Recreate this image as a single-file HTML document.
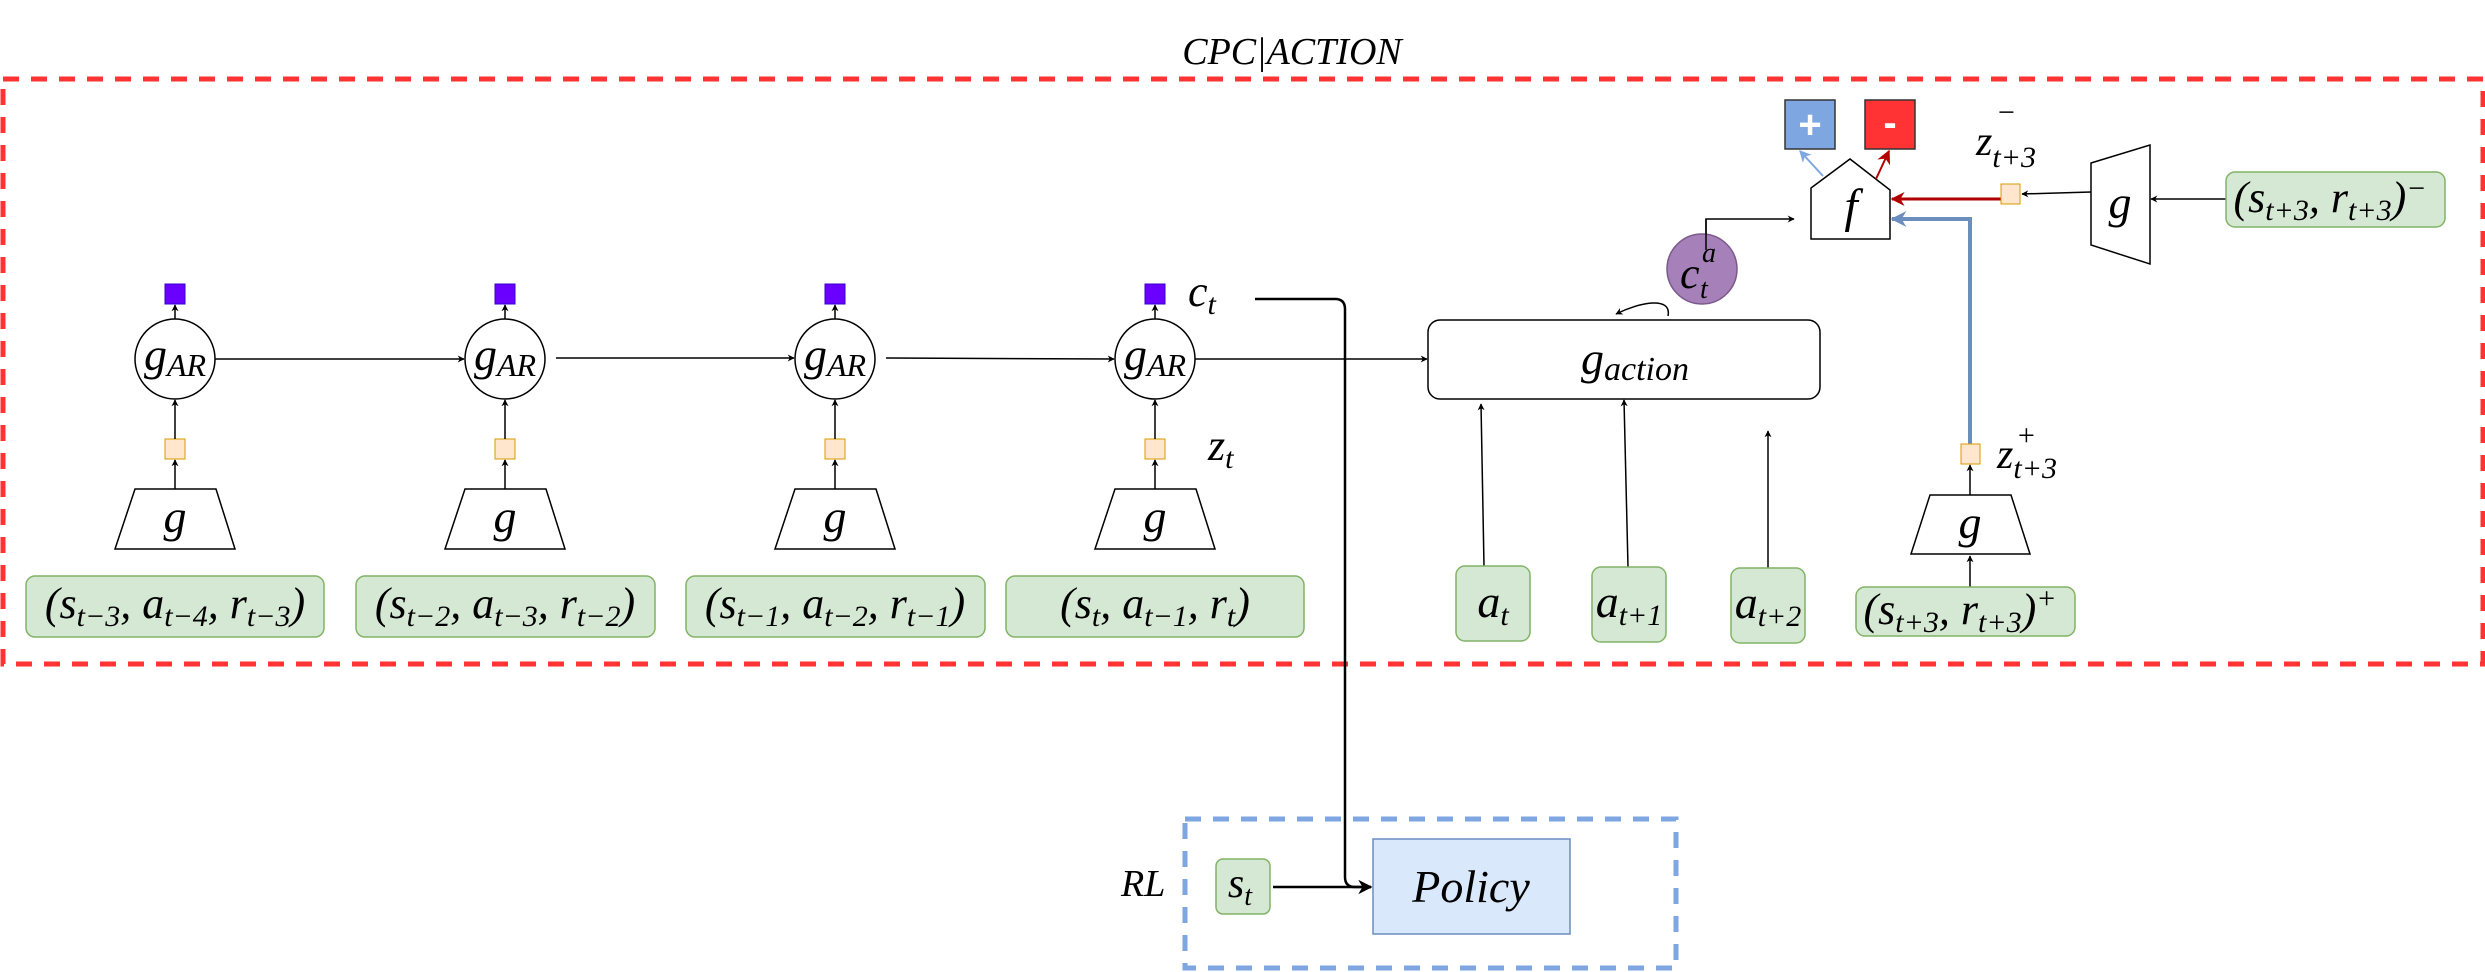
<!DOCTYPE html>
<html><head><meta charset="utf-8"><style>
html,body{margin:0;padding:0;background:#fff;}
svg{display:block;}
text{font-family:"Liberation Serif",serif;font-style:italic;fill:#000;}
</style></head><body>
<svg width="2485" height="972" viewBox="0 0 2485 972" xmlns="http://www.w3.org/2000/svg" font-family="Liberation Serif, serif">
<defs>
<marker id="ah" viewBox="0 0 10 10" refX="9" refY="5" markerWidth="7" markerHeight="7" orient="auto" markerUnits="userSpaceOnUse"><path d="M0,0 L10,5 L0,10 L3,5 z" fill="#000"/></marker>
<marker id="ahb" viewBox="0 0 10 10" refX="9" refY="5" markerWidth="14" markerHeight="14" orient="auto" markerUnits="userSpaceOnUse"><path d="M0,0 L10,5 L0,10 L3,5 z" fill="#000"/></marker>
<marker id="ahr" viewBox="0 0 10 10" refX="9" refY="5" markerWidth="14" markerHeight="14" orient="auto" markerUnits="userSpaceOnUse"><path d="M0,0 L10,5 L0,10 L3,5 z" fill="#b20000"/></marker>
<marker id="ahbl" viewBox="0 0 10 10" refX="9" refY="5" markerWidth="16" markerHeight="16" orient="auto" markerUnits="userSpaceOnUse"><path d="M0,0 L10,5 L0,10 L3,5 z" fill="#6c8ebf"/></marker>
<marker id="ahlb" viewBox="0 0 10 10" refX="9" refY="5" markerWidth="12" markerHeight="12" orient="auto" markerUnits="userSpaceOnUse"><path d="M0,0 L10,5 L0,10 L3,5 z" fill="#7ea6e0"/></marker>
</defs>

<text x="1292" y="64" font-size="38" text-anchor="middle">CPC|ACTION</text>
<rect x="3" y="79" width="2480" height="585" fill="none" stroke="#ff3333" stroke-width="5" stroke-dasharray="16 12"/>

<g>
<rect x="165" y="284" width="20" height="20" fill="#6a00ff" stroke="#3700cc"/>
<circle cx="175" cy="359" r="40" fill="#fff" stroke="#000" stroke-width="1.5"/>
<text x="175" y="370" font-size="46" text-anchor="middle">g<tspan font-size="32" dy="6">AR</tspan></text>
<rect x="165" y="439" width="20" height="20" fill="#ffe6cc" stroke="#d79b00"/>
<polygon points="135,489 216,489 235,549 115,549" fill="#fff" stroke="#000" stroke-width="1.5"/>
<text x="175" y="532" font-size="46" text-anchor="middle">g</text>
<rect x="26" y="576" width="298" height="61" rx="9" fill="#d5e8d4" stroke="#82b366" stroke-width="1.5"/>
<text x="175" y="618" font-size="44" text-anchor="middle">(s<tspan font-size="30" dy="8">t−3</tspan><tspan dy="-8">, a</tspan><tspan font-size="30" dy="8">t−4</tspan><tspan dy="-8">, r</tspan><tspan font-size="30" dy="8">t−3</tspan><tspan dy="-8">)</tspan></text>
</g>
<g>
<rect x="495" y="284" width="20" height="20" fill="#6a00ff" stroke="#3700cc"/>
<circle cx="505" cy="359" r="40" fill="#fff" stroke="#000" stroke-width="1.5"/>
<text x="505" y="370" font-size="46" text-anchor="middle">g<tspan font-size="32" dy="6">AR</tspan></text>
<rect x="495" y="439" width="20" height="20" fill="#ffe6cc" stroke="#d79b00"/>
<polygon points="465,489 546,489 565,549 445,549" fill="#fff" stroke="#000" stroke-width="1.5"/>
<text x="505" y="532" font-size="46" text-anchor="middle">g</text>
<rect x="356" y="576" width="299" height="61" rx="9" fill="#d5e8d4" stroke="#82b366" stroke-width="1.5"/>
<text x="505" y="618" font-size="44" text-anchor="middle">(s<tspan font-size="30" dy="8">t−2</tspan><tspan dy="-8">, a</tspan><tspan font-size="30" dy="8">t−3</tspan><tspan dy="-8">, r</tspan><tspan font-size="30" dy="8">t−2</tspan><tspan dy="-8">)</tspan></text>
</g>
<g>
<rect x="825" y="284" width="20" height="20" fill="#6a00ff" stroke="#3700cc"/>
<circle cx="835" cy="359" r="40" fill="#fff" stroke="#000" stroke-width="1.5"/>
<text x="835" y="370" font-size="46" text-anchor="middle">g<tspan font-size="32" dy="6">AR</tspan></text>
<rect x="825" y="439" width="20" height="20" fill="#ffe6cc" stroke="#d79b00"/>
<polygon points="795,489 876,489 895,549 775,549" fill="#fff" stroke="#000" stroke-width="1.5"/>
<text x="835" y="532" font-size="46" text-anchor="middle">g</text>
<rect x="686" y="576" width="299" height="61" rx="9" fill="#d5e8d4" stroke="#82b366" stroke-width="1.5"/>
<text x="835" y="618" font-size="44" text-anchor="middle">(s<tspan font-size="30" dy="8">t−1</tspan><tspan dy="-8">, a</tspan><tspan font-size="30" dy="8">t−2</tspan><tspan dy="-8">, r</tspan><tspan font-size="30" dy="8">t−1</tspan><tspan dy="-8">)</tspan></text>
</g>
<g>
<rect x="1145" y="284" width="20" height="20" fill="#6a00ff" stroke="#3700cc"/>
<circle cx="1155" cy="359" r="40" fill="#fff" stroke="#000" stroke-width="1.5"/>
<text x="1155" y="370" font-size="46" text-anchor="middle">g<tspan font-size="32" dy="6">AR</tspan></text>
<rect x="1145" y="439" width="20" height="20" fill="#ffe6cc" stroke="#d79b00"/>
<polygon points="1115,489 1196,489 1215,549 1095,549" fill="#fff" stroke="#000" stroke-width="1.5"/>
<text x="1155" y="532" font-size="46" text-anchor="middle">g</text>
<rect x="1006" y="576" width="298" height="61" rx="9" fill="#d5e8d4" stroke="#82b366" stroke-width="1.5"/>
<text x="1155" y="618" font-size="44" text-anchor="middle">(s<tspan font-size="30" dy="8">t</tspan><tspan dy="-8">, a</tspan><tspan font-size="30" dy="8">t−1</tspan><tspan dy="-8">, r</tspan><tspan font-size="30" dy="8">t</tspan><tspan dy="-8">)</tspan></text>
</g>

<g stroke="#000" stroke-width="1.5" fill="none" marker-end="url(#ah)">
<line x1="175" y1="489" x2="175" y2="460"/><line x1="175" y1="439" x2="175" y2="400"/><line x1="175" y1="319" x2="175" y2="305"/>
<line x1="505" y1="489" x2="505" y2="460"/><line x1="505" y1="439" x2="505" y2="400"/><line x1="505" y1="319" x2="505" y2="305"/>
<line x1="835" y1="489" x2="835" y2="460"/><line x1="835" y1="439" x2="835" y2="400"/><line x1="835" y1="319" x2="835" y2="305"/>
<line x1="1155" y1="489" x2="1155" y2="460"/><line x1="1155" y1="439" x2="1155" y2="400"/><line x1="1155" y1="319" x2="1155" y2="305"/>
<line x1="215" y1="359" x2="464" y2="359"/><line x1="556" y1="358" x2="794" y2="358"/><line x1="886" y1="358" x2="1114" y2="359"/><line x1="1195" y1="359" x2="1427" y2="359"/>
<line x1="1484" y1="566" x2="1481" y2="404"/><line x1="1628" y1="567" x2="1624" y2="400"/><line x1="1768" y1="568" x2="1768" y2="431"/>
<line x1="1970" y1="594" x2="1970" y2="556"/><line x1="1970" y1="495" x2="1970" y2="465"/>
<line x1="2226" y1="199" x2="2151" y2="199"/><line x1="2091" y1="192" x2="2022" y2="194"/>
<polyline points="1706,250 1706,219 1794,219"/>
<path d="M1668,316 C1672,296 1640,302 1616,314"/>
</g>

<text x="1188" y="306" font-size="44">c<tspan font-size="30" dy="8">t</tspan></text>
<text x="1208" y="460" font-size="44">z<tspan font-size="30" dy="8">t</tspan></text>

<path d="M1255,299 L1335,299 Q1345,299 1345,309 L1345,877 Q1345,887 1355,887 L1371,887" fill="none" stroke="#000" stroke-width="2.5" marker-end="url(#ahb)"/>

<rect x="1428" y="320" width="392" height="79" rx="12" fill="#fff" stroke="#000" stroke-width="1.5"/>
<text x="1635" y="374" font-size="46" text-anchor="middle">g<tspan font-size="34" dy="6">action</tspan></text>

<rect x="1456" y="566" width="74" height="75" rx="9" fill="#d5e8d4" stroke="#82b366" stroke-width="1.5"/>
<text x="1493" y="617" font-size="46" text-anchor="middle">a<tspan font-size="30" dy="8">t</tspan></text>
<rect x="1592" y="567" width="74" height="75" rx="9" fill="#d5e8d4" stroke="#82b366" stroke-width="1.5"/>
<text x="1629" y="617" font-size="46" text-anchor="middle">a<tspan font-size="30" dy="8">t+1</tspan></text>
<rect x="1731" y="568" width="74" height="75" rx="9" fill="#d5e8d4" stroke="#82b366" stroke-width="1.5"/>
<text x="1768" y="618" font-size="46" text-anchor="middle">a<tspan font-size="30" dy="8">t+2</tspan></text>

<circle cx="1702" cy="269" r="35" fill="#a680b8" stroke="#7a5a8c" stroke-width="1.5"/>
<line x1="1706" y1="250" x2="1706" y2="219" stroke="#000" stroke-width="1.5"/>
<text x="1680" y="288" font-size="44">c</text>
<text x="1702" y="262" font-size="28">a</text>
<text x="1700" y="298" font-size="28">t</text>

<polygon points="1811,188 1850,159 1890,190 1890,239 1811,239" fill="#fff" stroke="#000" stroke-width="1.5"/>
<text x="1851" y="222" font-size="48" text-anchor="middle">f</text>
<rect x="1785" y="100" width="50" height="49" fill="#7ea6e0" stroke="#333" stroke-width="1.5"/>
<text x="1810" y="138" font-size="40" text-anchor="middle" style="font-family:'Liberation Sans',sans-serif;font-style:normal;font-weight:bold;fill:#fff">+</text>
<rect x="1865" y="100" width="50" height="49" fill="#ff3333" stroke="#333" stroke-width="1.5"/>
<text x="1890" y="136" font-size="40" text-anchor="middle" style="font-family:'Liberation Sans',sans-serif;font-style:normal;font-weight:bold;fill:#fff">-</text>
<line x1="1823" y1="176" x2="1800" y2="151" stroke="#7ea6e0" stroke-width="2" marker-end="url(#ahlb)"/>
<line x1="1876" y1="179" x2="1889" y2="151" stroke="#b20000" stroke-width="2" marker-end="url(#ahr)"/>

<line x1="2001" y1="199" x2="1892" y2="199" stroke="#b20000" stroke-width="3" marker-end="url(#ahr)"/>
<polyline points="1970,444 1970,219 1892,219" fill="none" stroke="#6c8ebf" stroke-width="4" marker-end="url(#ahbl)"/>

<rect x="2001" y="184" width="19" height="20" fill="#ffe6cc" stroke="#d79b00"/>
<text x="1976" y="155" font-size="42">z<tspan font-size="30" dy="12">t+3</tspan></text>
<text x="1996" y="122" font-size="30">−</text>
<polygon points="2091,163 2150,145 2150,264 2091,245" fill="#fff" stroke="#000" stroke-width="1.5"/>
<text x="2120" y="218" font-size="46" text-anchor="middle">g</text>
<rect x="2226" y="172" width="219" height="55" rx="9" fill="#d5e8d4" stroke="#82b366" stroke-width="1.5"/>
<text x="2330" y="212" font-size="44" text-anchor="middle">(s<tspan font-size="30" dy="8">t+3</tspan><tspan dy="-8">, r</tspan><tspan font-size="30" dy="8">t+3</tspan><tspan dy="-8">)</tspan><tspan font-size="30" dy="-14">−</tspan></text>

<rect x="1961" y="444" width="19" height="20" fill="#ffe6cc" stroke="#d79b00"/>
<text x="1997" y="468" font-size="42">z<tspan font-size="30" dy="10">t+3</tspan></text>
<text x="2016" y="445" font-size="30">+</text>
<polygon points="1930,495 2011,495 2030,554 1911,554" fill="#fff" stroke="#000" stroke-width="1.5"/>
<text x="1970" y="538" font-size="46" text-anchor="middle">g</text>
<rect x="1856" y="587" width="219" height="49" rx="9" fill="#d5e8d4" stroke="#82b366" stroke-width="1.5"/>
<text x="1960" y="624" font-size="44" text-anchor="middle">(s<tspan font-size="30" dy="8">t+3</tspan><tspan dy="-8">, r</tspan><tspan font-size="30" dy="8">t+3</tspan><tspan dy="-8">)</tspan><tspan font-size="30" dy="-16">+</tspan></text>

<rect x="1185" y="819" width="491" height="149" fill="none" stroke="#7ea6e0" stroke-width="5" stroke-dasharray="16 12"/>
<text x="1121" y="896" font-size="38">RL</text>
<rect x="1216" y="859" width="54" height="55" rx="7" fill="#d5e8d4" stroke="#82b366" stroke-width="1.5"/>
<text x="1240" y="897" font-size="42" text-anchor="middle">s<tspan font-size="28" dy="8">t</tspan></text>
<line x1="1273" y1="887" x2="1371" y2="887" stroke="#000" stroke-width="2.5" marker-end="url(#ahb)"/>
<rect x="1373" y="839" width="197" height="95" fill="#dae8fc" stroke="#6c8ebf" stroke-width="1.5"/>
<text x="1471" y="902" font-size="46" text-anchor="middle">Policy</text>
</svg>
</body></html>
